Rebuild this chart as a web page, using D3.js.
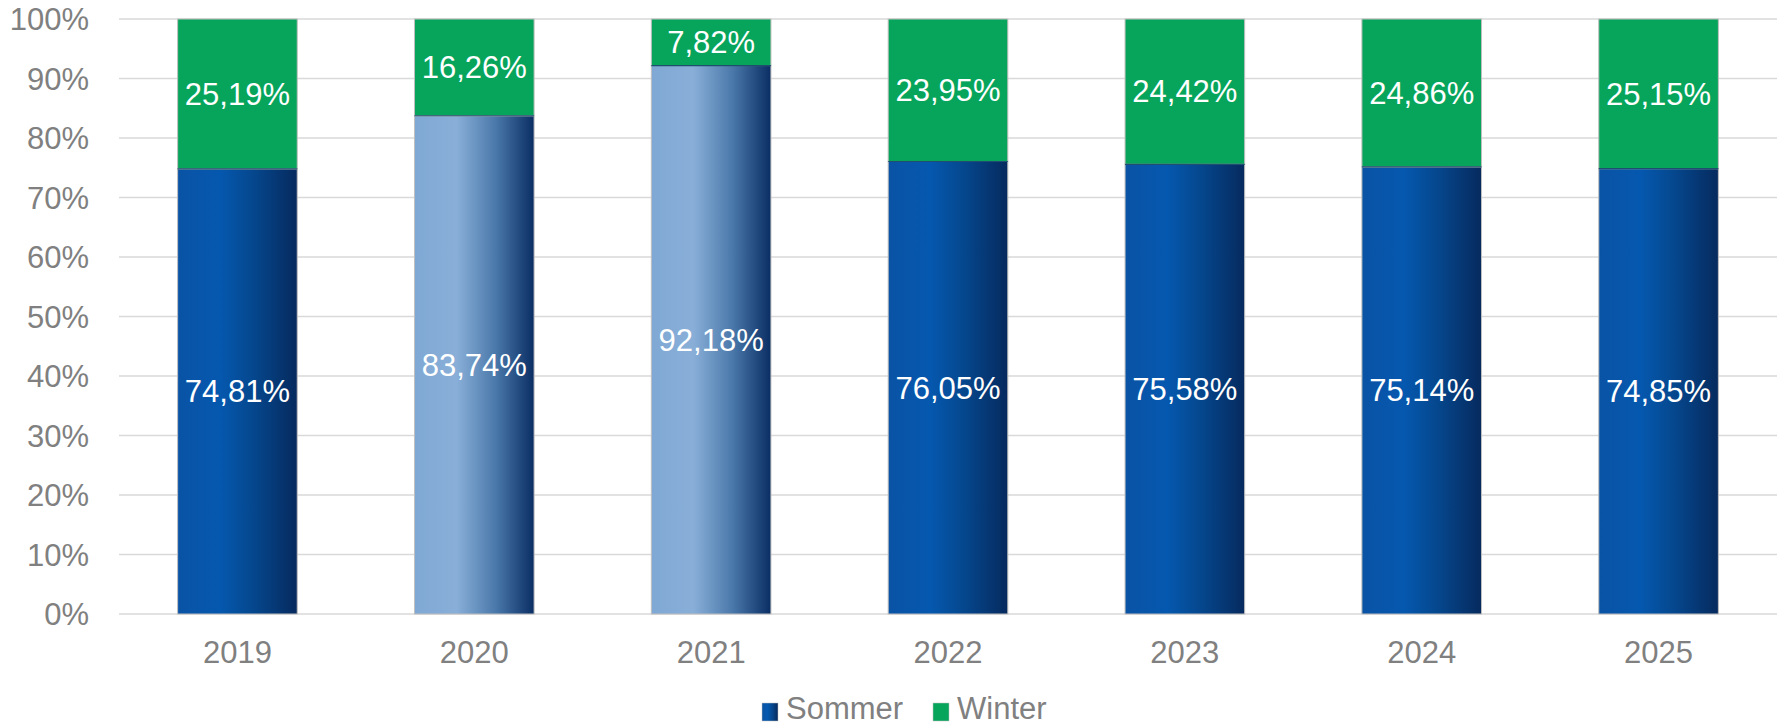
<!DOCTYPE html>
<html>
<head>
<meta charset="utf-8">
<script src="https://cdn.jsdelivr.net/npm/d3@7"></script>
<style>
  body { margin: 0; background: #fff; }
  svg { display: block; font-family: "Liberation Sans", Arial, sans-serif; }
</style>
</head>
<body>
<div id="chart"></div>
<script>
// data
var years = ["2019", "2020", "2021", "2022", "2023", "2024", "2025"];
var sommer = [74.81, 83.74, 92.18, 76.05, 75.58, 75.14, 74.85];
var winter = [25.19, 16.26, 7.82, 23.95, 24.42, 24.86, 25.15];
var lightYears = ["2020", "2021"];   // bars drawn in the paler blue
var yTicks = [0, 10, 20, 30, 40, 50, 60, 70, 80, 90, 100];

var width = 1781, height = 725;
var margin = {top: 19, right: 4, bottom: 111, left: 119};

var svg = d3.select("#chart").append("svg")
  .attr("width", width)
  .attr("height", height);

var defs = svg.append("defs");

function grad(id, stops) {
  var g = defs.append("linearGradient").attr("id", id)
    .attr("x1", "0%").attr("x2", "100%").attr("y1", "0%").attr("y2", "0%");
  stops.forEach(function(s) {
    g.append("stop").attr("offset", s[0]).attr("stop-color", s[1]);
  });
}
grad("gradDark", [["0%", "#0A53A5"], ["35%", "#0558AF"], ["62%", "#05488F"], ["100%", "#062A5E"]]);
grad("gradLight", [["0%", "#7FA8D4"], ["35%", "#89AFD8"], ["68%", "#4A78AA"], ["100%", "#0A2E64"]]);

var x = d3.scaleBand()
  .domain(years)
  .range([margin.left, width - margin.right])
  .paddingInner(0.495)
  .paddingOuter(0.2475);

var y = d3.scaleLinear()
  .domain([0, 100])
  .range([height - margin.bottom, margin.top]);

// gridlines
svg.append("g")
  .selectAll("line")
  .data(yTicks)
  .enter().append("line")
  .attr("x1", margin.left)
  .attr("x2", width - margin.right)
  .attr("y1", function(d) { return y(d); })
  .attr("y2", function(d) { return y(d); })
  .style("stroke", "#d9d9d9")
  .style("stroke-width", 1.5);

// y axis labels
var yAxis = d3.axisLeft(y).tickValues(yTicks).tickSize(0).tickPadding(30)
  .tickFormat(function(d) { return d + "%"; });
var yg = svg.append("g").attr("transform", "translate(" + margin.left + ",0)").call(yAxis);
yg.select(".domain").remove();
yg.selectAll("text").style("font-size", "31px").style("fill", "#808080")
  .attr("dy", "0.35em");

// x axis labels
var xAxis = d3.axisBottom(x).tickSize(0).tickPadding(27);
var xg = svg.append("g").attr("transform", "translate(0," + y(0) + ")").call(xAxis);
xg.select(".domain").remove();
xg.selectAll("text").style("font-size", "31px").style("fill", "#808080");

var rows = years.map(function(yr, i) {
  return {year: yr, s: sommer[i], w: winter[i]};
});

var bars = svg.append("g").selectAll("g")
  .data(rows)
  .enter().append("g");

// sommer segment
bars.append("rect")
  .attr("x", function(d) { return x(d.year); })
  .attr("width", x.bandwidth())
  .attr("y", function(d) { return y(d.s); })
  .attr("height", function(d) { return y(0) - y(d.s); })
  .style("fill", function(d) {
    return lightYears.indexOf(d.year) >= 0 ? "url(#gradLight)" : "url(#gradDark)";
  })
  .style("stroke", "#bfbfbf")
  .style("stroke-width", 1);

// winter segment
bars.append("rect")
  .attr("x", function(d) { return x(d.year); })
  .attr("width", x.bandwidth())
  .attr("y", function(d) { return y(d.s + d.w); })
  .attr("height", function(d) { return y(d.s) - y(d.s + d.w); })
  .style("fill", "#07A55C")
  .style("stroke", "#bfbfbf")
  .style("stroke-width", 1);

// boundary line between segments
bars.append("line")
  .attr("x1", function(d) { return x(d.year); })
  .attr("x2", function(d) { return x(d.year) + x.bandwidth(); })
  .attr("y1", function(d) { return y(d.s); })
  .attr("y2", function(d) { return y(d.s); })
  .style("stroke", "#1f4f6e")
  .style("stroke-width", 1.2);

function fmt(v) { return v.toFixed(2).replace(".", ",") + "%"; }

bars.append("text")
  .attr("x", function(d) { return x(d.year) + x.bandwidth() / 2; })
  .attr("y", function(d) { return (y(0) + y(d.s)) / 2; })
  .attr("dy", "0.35em")
  .attr("text-anchor", "middle")
  .style("font-size", "31px")
  .style("fill", "#fff")
  .text(function(d) { return fmt(d.s); });

bars.append("text")
  .attr("x", function(d) { return x(d.year) + x.bandwidth() / 2; })
  .attr("y", function(d) { return (y(d.s) + y(d.s + d.w)) / 2; })
  .attr("dy", "0.35em")
  .attr("text-anchor", "middle")
  .style("font-size", "31px")
  .style("fill", "#fff")
  .text(function(d) { return fmt(d.w); });

// legend
var legendItems = [
  {name: "Sommer", fill: "url(#gradDark)", x: 762},
  {name: "Winter", fill: "#07A55C", x: 933}
];
var lg = svg.append("g").selectAll("g")
  .data(legendItems)
  .enter().append("g")
  .attr("transform", function(d) { return "translate(" + d.x + ",703)"; });
lg.append("rect")
  .attr("width", 16).attr("height", 18)
  .style("fill", function(d) { return d.fill; })
  .style("stroke", "#bfbfbf").style("stroke-width", 0.5);
lg.append("text")
  .attr("x", 24).attr("y", 16)
  .style("font-size", "31px").style("fill", "#808080")
  .text(function(d) { return d.name; });
</script>
</body>
</html>
